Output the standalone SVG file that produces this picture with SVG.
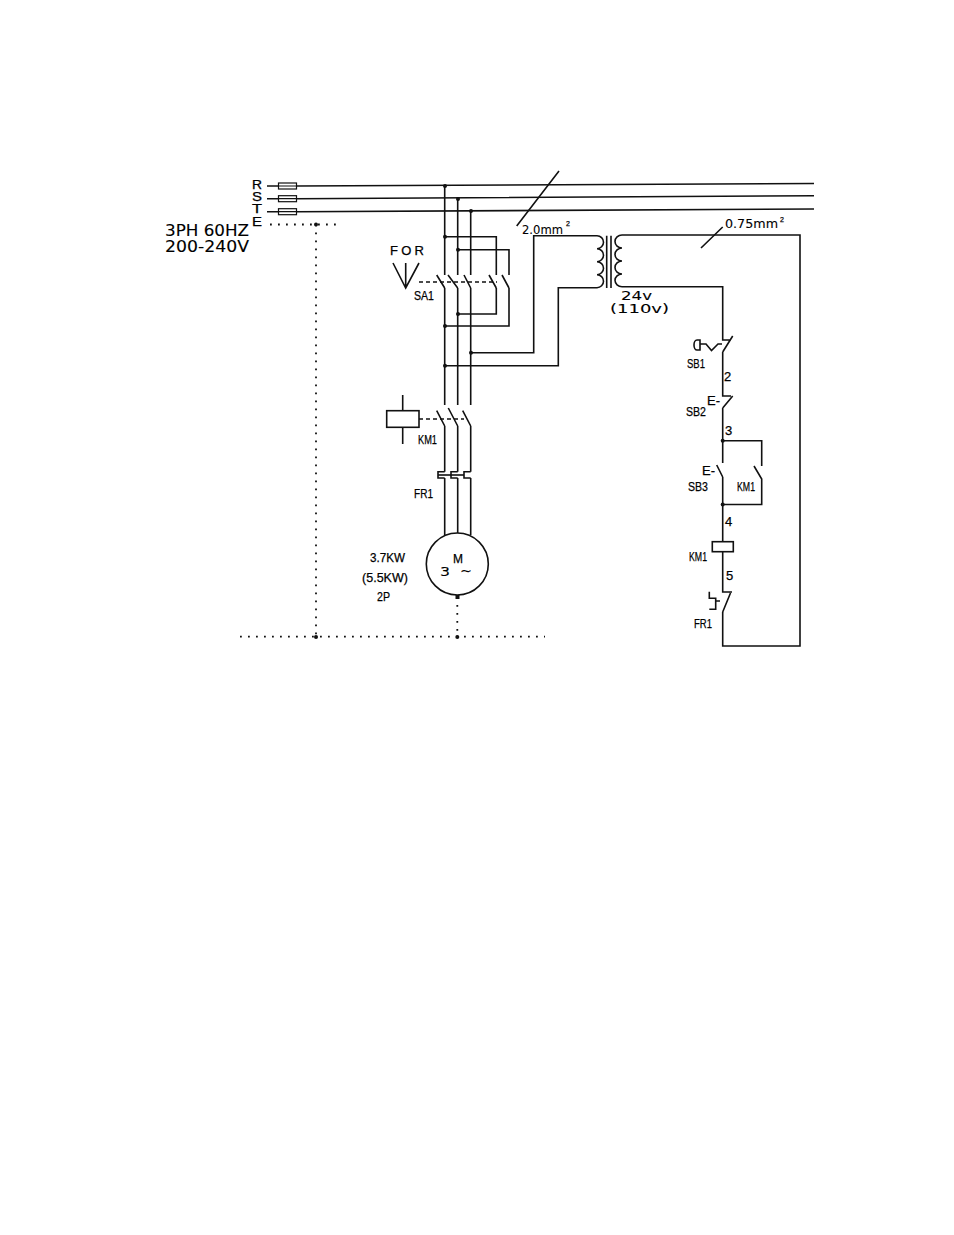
<svg xmlns="http://www.w3.org/2000/svg" width="954" height="1235" viewBox="0 0 954 1235">
<style>
.w{fill:none;stroke:#111;stroke-width:1.6;stroke-linejoin:miter}
.t{fill:none;stroke:#111;stroke-width:1.2}
.d{fill:none;stroke:#111;stroke-width:1.8;stroke-dasharray:1.8 6.2}
.h{fill:none;stroke:#111;stroke-width:1.3;stroke-dasharray:4 3}
.j{fill:#111}
text{font-family:"Liberation Sans",Arial,sans-serif;fill:#000;stroke:#000;stroke-width:.25}
.s{font-size:13px}
.m{font-size:12px}
.l{font-size:13px;font-family:"DejaVu Sans",sans-serif;stroke-width:.1}
.b{font-size:15.500px;font-family:"DejaVu Sans",sans-serif;stroke-width:.1}
</style>
<rect width="954" height="1235" fill="#fff"/>
<g id="connectors">
<path class="w" d="M267 186H278.500M296.500 186L814 183.500M267 198.700H278.500M296.500 198.700L814 195.700M267 211.700H278.500M296.500 211.700L814 209"/>
<path class="d" d="M270 224.500H338M316 224.500V637M240 636.700H545M457.300 597V637"/>
<path class="w" d="M444.700 186V275M444.700 288V405M457.700 199V275M457.700 288V405M470.700 211V275M470.700 288V405"/>
<path class="w" d="M436.700 275L444.700 288M448 275L457.700 288M464 275L470.700 288M489 275L496.300 288M502 275L509 288"/>
<path class="w" d="M444.700 236.700H496.300V275M457.700 249.700H509V275M496.300 288V314H457.700M509 288V326H444.700"/>
<path class="h" d="M419 282H497"/>
<path class="w" d="M470.700 352.700H533.700V235.700H597M444.700 365.700H558.300V287.700H597"/>
<path class="w" d="M622 235H800V646H722.700V612M622 286.700H722.700V338"/>
<path class="w" d="M436.700 410.700L444.700 426M448.300 408L457.700 426M462.700 410.700L470.700 426M444.700 426V471.700M457.700 426V471.700M470.700 426V471.700"/>
<path class="w" d="M444.700 478V535M457.700 478V533M470.700 478V535"/>
<path class="w" d="M444.700 471.700H438V478H444.700M457.700 471.700H451V478H457.700M470.700 471.700H464V478H470.700"/>
<path class="h" d="M419 419H464"/>
<path class="w" d="M438 475H464"/>
<path class="w" d="M402.700 395V410.700M402.700 427.300V444"/>
<path class="w" d="M516.700 226L559 171M701 248L722.700 227"/>
<path class="w" d="M722.700 338V340H731M732.700 336L722.700 352M722.700 352V396H731M732.700 396L722.700 408M722.700 408V463M716.700 465L722.700 477M722.700 477V541.700M722.700 551.700V592H732M730.500 593L722.700 612"/>
<path class="w" d="M722.700 440.700H761.700V466M754 466L761.700 479V504.500H722.700"/>
<path class="w" d="M709.300 591.700V598.300H715.700V609.300H709.300M716 601H720"/>
<path class="w" d="M700 344H706L711.500 350.500L718 344H722"/>
<path class="w" d="M697 340H700V350H697A3 5 0 0 1 697 340"/>
<path class="w" d="M393 263L405.700 288L419 263M405.700 263V288"/>
</g>
<g id="junctions" class="j">
<circle cx="445" cy="186" r="2"/><circle cx="458" cy="199" r="2"/><circle cx="471" cy="211" r="2"/>
<circle cx="445" cy="236.700" r="2"/><circle cx="458" cy="249.700" r="2"/><circle cx="458" cy="314" r="2"/><circle cx="445" cy="326" r="2"/>
<circle cx="471" cy="352.700" r="2"/><circle cx="445" cy="365.700" r="2"/>
<circle cx="316" cy="224.500" r="2"/><circle cx="316" cy="637" r="2"/><circle cx="457.300" cy="637" r="2"/>
<rect x="455.500" y="595" width="4" height="4"/>
<circle cx="722.700" cy="440.700" r="2"/><circle cx="722.700" cy="504.500" r="2"/>
</g>
<g id="fuses">
<rect class="t" x="278.500" y="183" width="18" height="6"/><rect class="t" x="278.500" y="195.700" width="18" height="6"/><rect class="t" x="278.500" y="208.700" width="18" height="6"/>
<path class="t" d="M278.500 186H296.500M278.500 198.700H296.500M278.500 211.700H296.500"/>
</g>
<g id="transformer">
<path class="w" d="M597 235.700a6.500 6.500 0 0 1 0 13a6.500 6.500 0 0 1 0 13a6.500 6.500 0 0 1 0 13a6.500 6.500 0 0 1 0 13"/>
<path class="w" d="M622 235a7 6.500 0 0 0 0 13a7 6.500 0 0 0 0 13a7 6.500 0 0 0 0 13a7 6.350 0 0 0 0 12.700"/>
<path class="w" d="M606.700 235.700V288M611 235.700V288"/>
</g>
<g id="km1-coil"><rect class="w" x="386.700" y="410.700" width="32.300" height="16.600"/></g>
<g id="km1-control-coil"><rect class="w" x="712.300" y="541.700" width="21" height="10"/></g>
<g id="motor"><circle class="w" cx="457.300" cy="564" r="31"/></g>
<g id="labels">
<text class="m" x="252" y="188.500" textLength="10" lengthAdjust="spacingAndGlyphs">R</text>
<text class="m" x="252" y="200.500" textLength="10" lengthAdjust="spacingAndGlyphs">S</text>
<text class="m" x="252" y="212.500" textLength="10" lengthAdjust="spacingAndGlyphs">T</text>
<text class="m" x="252" y="225.500" textLength="10" lengthAdjust="spacingAndGlyphs">E</text>
<text class="b" x="165" y="235.500" textLength="84" lengthAdjust="spacingAndGlyphs">3PH 60HZ</text>
<text class="b" x="165" y="252" textLength="84" lengthAdjust="spacingAndGlyphs">200-240V</text>
<text class="s" x="390" y="255" textLength="34">F O R</text>
<text class="s" x="414" y="300" textLength="20" lengthAdjust="spacingAndGlyphs">SA1</text>
<text class="s" x="418" y="444" textLength="19" lengthAdjust="spacingAndGlyphs">KM1</text>
<text class="s" x="414" y="498" textLength="19" lengthAdjust="spacingAndGlyphs">FR1</text>
<text class="s" x="370" y="562" textLength="35" lengthAdjust="spacingAndGlyphs">3.7KW</text>
<text class="s" x="362" y="582" textLength="46" lengthAdjust="spacingAndGlyphs">(5.5KW)</text>
<text class="s" x="377" y="601" textLength="13" lengthAdjust="spacingAndGlyphs">2P</text>
<text class="s" x="453" y="563" textLength="10" lengthAdjust="spacingAndGlyphs">M</text>
<text class="l" x="440" y="576" textLength="10" lengthAdjust="spacingAndGlyphs">3</text>
<text class="l" x="460" y="575" textLength="12" lengthAdjust="spacingAndGlyphs">~</text>
<text class="l" x="522" y="234" textLength="41" lengthAdjust="spacingAndGlyphs">2.0mm</text>
<text x="566" y="226" font-size="7">2</text>
<text class="l" x="725" y="228" textLength="53" lengthAdjust="spacingAndGlyphs">0.75mm</text>
<text x="780" y="222" font-size="7">2</text>
<text class="l" x="621" y="300" textLength="31" lengthAdjust="spacingAndGlyphs">24v</text>
<text class="l" x="610" y="313" textLength="59" lengthAdjust="spacingAndGlyphs">(110v)</text>
<text class="s" x="687" y="368" textLength="18" lengthAdjust="spacingAndGlyphs">SB1</text>
<text class="s" x="686" y="416" textLength="20" lengthAdjust="spacingAndGlyphs">SB2</text>
<text class="s" x="688" y="491" textLength="20" lengthAdjust="spacingAndGlyphs">SB3</text>
<text class="s" x="737" y="491" textLength="18" lengthAdjust="spacingAndGlyphs">KM1</text>
<text class="s" x="689" y="561" textLength="18" lengthAdjust="spacingAndGlyphs">KM1</text>
<text class="s" x="694" y="628" textLength="18" lengthAdjust="spacingAndGlyphs">FR1</text>
<text class="s" x="707" y="405" textLength="13">E-</text>
<text class="s" x="702" y="475" textLength="13">E-</text>
<text class="s" x="724" y="381">2</text>
<text class="s" x="725" y="435">3</text>
<text class="s" x="725" y="526">4</text>
<text class="s" x="726" y="580">5</text>
</g>
</svg>
